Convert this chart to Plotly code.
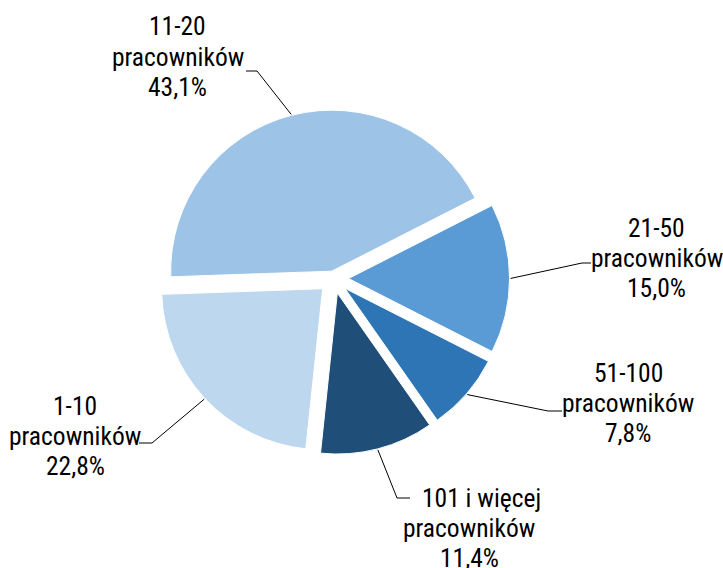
import math
import plotly.graph_objects as go

# ---- data ----
categories = ["11-20 pracowników", "21-50 pracowników", "51-100 pracowników",
              "101 i więcej pracowników", "1-10 pracowników"]
values = [43.1, 15.0, 7.8, 11.4, 22.8]
label_lines = [
    ["11-20", "pracowników", "43,1%"],
    ["21-50", "pracowników", "15,0%"],
    ["51-100", "pracowników", "7,8%"],
    ["101 i więcej", "pracowników", "11,4%"],
    ["1-10", "pracowników", "22,8%"],
]
pulls = [0.047, 0.093, 0.093, 0.093, 0.093]
colors = ["#9DC3E6", "#5B9BD5", "#2E75B6", "#1F4E79", "#BDD7EE"]

# ---- layout (pixels) ----
W, H = 723, 568
ROT = 268
DOM_X = [0.2180, 0.7048]
DOM_Y = [0.1998, 0.8195]
# label layout: per-line x centers, first line y center, leader elbow and end
label_x = [[177.5] * 3, [656.7] * 3, [628.0] * 3, [481.0, 469.0, 469.0], [75.0] * 3]
label_y0 = [26.5, 227.5, 373.0, 497.5, 406.0]
PITCH = 30.0
elbows = [(257, 71), (582, 263), (548, 411), (397, 498), (152, 443)]
ends = [(246, 71), (591, 263), (562, 411), (410, 498), (139, 443)]
FONT = "Liberation Sans Narrow, Arial Narrow, Roboto Condensed, Liberation Sans, Arial"
FS = 25.5


def px(x):
    return x / W


def py(y):
    return 1 - y / H


fig = go.Figure(go.Pie(
    labels=categories, values=values, sort=False, direction="clockwise",
    rotation=ROT, pull=pulls, textinfo="none", hoverinfo="label+percent",
    marker=dict(colors=colors, line=dict(color="white", width=1)),
    domain=dict(x=DOM_X, y=DOM_Y), showlegend=False,
))

# geometry of the pie, same as plotly.js computes it
cx = W * (DOM_X[0] + DOM_X[1]) / 2
cy = H * (1 - (DOM_Y[0] + DOM_Y[1]) / 2)
r = min(W * (DOM_X[1] - DOM_X[0]), H * (DOM_Y[1] - DOM_Y[0])) / (2 * (1 + max(pulls)))
total = sum(values)
ang = math.radians(ROT)
shapes = []
annotations = []
for i, v in enumerate(values):
    mid = ang + 2 * math.pi * v / total / 2
    ang += 2 * math.pi * v / total
    dx, dy = math.sin(mid), -math.cos(mid)
    sx = cx + dx * r * (1 + pulls[i]) + dx
    sy = cy + dy * r * (1 + pulls[i]) + dy
    ex, ey = elbows[i]
    tx, ty = ends[i]
    shapes.append(dict(
        type="path", xref="paper", yref="paper",
        path=f"M {px(sx)},{py(sy)} L {px(ex)},{py(ey)} L {px(tx)},{py(ty)}",
        line=dict(color="black", width=1),
    ))
    for j, t in enumerate(label_lines[i]):
        annotations.append(dict(
            text=t, x=px(label_x[i][j]), y=py(label_y0[i] + j * PITCH),
            xref="paper", yref="paper", xanchor="center", yanchor="middle",
            showarrow=False, font=dict(family=FONT, size=FS, color="black"),
        ))

fig.update_layout(
    width=W, height=H, margin=dict(l=0, r=0, t=0, b=0),
    paper_bgcolor="white", plot_bgcolor="white",
    shapes=shapes, annotations=annotations,
)
fig.write_html("out.html", config={"displayModeBar": False},
               post_script="document.body.style.margin='0';")
